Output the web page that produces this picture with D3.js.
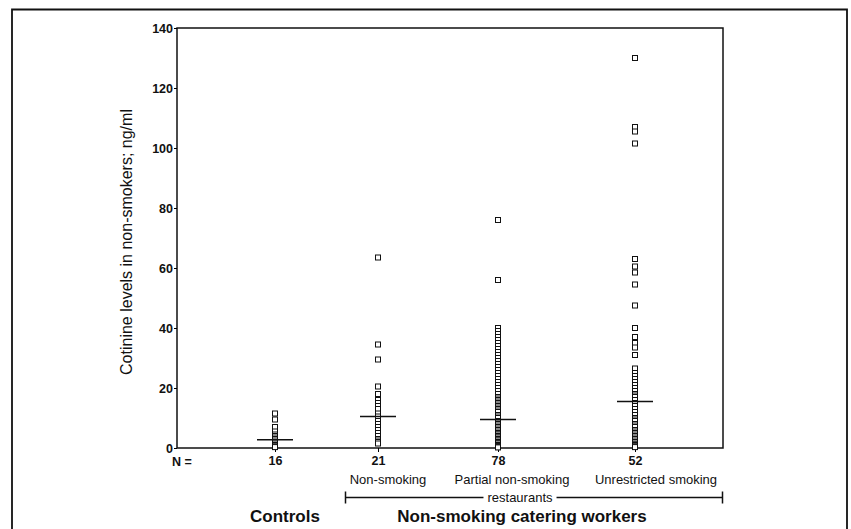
<!DOCTYPE html>
<html>
<head>
<meta charset="utf-8">
<script src="https://cdn.jsdelivr.net/npm/d3@7"></script>
<style>
  body { margin: 0; background: #fff; }
  svg text { font-family: "Liberation Sans", Arial, sans-serif; fill: #111; }
</style>
</head>
<body>
<svg id="chart" width="851" height="529"></svg>
<script>
// groups along the x axis
var groups = ["Controls", "Non-smoking", "Partial non-smoking", "Unrestricted smoking"];
var yTicks = [0, 20, 40, 60, 80, 100, 120, 140];

// cotinine levels (ng/ml)
var controls = [11.5, 9.5, 7, 5.5, 4.5, 4, 3.5, 3, 2.5, 2, 1.5, 1, 1, 0.5, 0.5, 0.3];
var nonSmoking = [63.5, 34.5, 29.5, 20.5, 18, 16, 15, 14, 13, 11.5, 10.5, 9, 8, 7, 6, 5, 4, 3, 2.5, 2, 1.5];
var partialNonSmoking = [76, 56, 40, 39, 38, 37, 36, 35, 34, 33, 32, 31, 30, 29, 28, 27, 26, 25, 24, 23, 22, 21, 20, 19, 18, 17,
    16.5, 16, 15.5, 15, 14.5, 14, 13.5, 13, 12.5, 12, 11, 10.5, 10,
    9, 8.5, 8, 8, 7.5, 7, 7, 6.5, 6, 6, 5.5, 5, 5, 4.5, 4.5, 4, 4, 3.5, 3.5, 3, 3, 3, 2.5, 2.5, 2, 2, 2,
    1.5, 1.5, 1.5, 1, 1, 1, 0.8, 0.6, 0.5, 0.4, 0.3, 0.2];
var unrestricted = [130, 107, 105.5, 101.5, 63, 60.5, 58.5, 54.5, 47.5, 40, 37, 35, 33.5, 31, 26.5, 25, 24, 23, 22, 21, 20, 19, 18,
    17.5, 17, 16, 15, 14, 13, 12, 11, 10, 9.5, 9, 8, 7.5, 7, 6, 5.5, 5, 4.5, 4, 3.5, 3, 2.5, 2, 1.5, 1.2, 1, 0.8, 0.5, 0.3];

var groupValues = [controls, nonSmoking, partialNonSmoking, unrestricted];

const svg = d3.select("#chart");

const plot = { left: 177, right: 723, top: 28, bottom: 448 };

const y = d3.scaleLinear()
    .domain([0, 140])
    .range([plot.bottom, plot.top]);

// group positions are not evenly spaced in the original
const x = d3.scaleOrdinal()
    .domain(groups)
    .range([275, 378, 498, 635]);

// outer frame
svg.append("path")
    .attr("d", "M12,535 L12,9.5 L847,9.5 L847,535")
    .attr("fill", "none")
    .attr("stroke", "#111")
    .attr("stroke-width", 1.8);

// plot frame
svg.append("rect")
    .attr("x", plot.left)
    .attr("y", plot.top)
    .attr("width", plot.right - plot.left)
    .attr("height", plot.bottom - plot.top)
    .attr("fill", "none")
    .attr("stroke", "#111")
    .attr("stroke-width", 1.5);

// y axis
const yAxis = svg.append("g")
    .attr("transform", `translate(${plot.left},0)`)
    .call(d3.axisLeft(y).tickValues(yTicks).tickSize(3).tickPadding(1).tickSizeOuter(0));
yAxis.select(".domain").remove();
yAxis.selectAll("text")
    .style("font-size", "12.5px")
    .style("font-weight", "bold");

// x axis with N counts
const xAxis = svg.append("g")
    .attr("transform", `translate(0,${plot.bottom})`)
    .call(d3.axisBottom(x).tickSize(4).tickPadding(4)
        .tickFormat(function (g) { return groupValues[groups.indexOf(g)].length; }));
xAxis.select(".domain").remove();
xAxis.selectAll("text")
    .style("font-size", "12.5px")
    .style("font-weight", "bold");

svg.append("text")
    .attr("x", 172)
    .attr("y", 466)
    .style("font-size", "12.5px")
    .style("font-weight", "bold")
    .text("N =");

// y axis title
svg.append("text")
    .attr("transform", "translate(132,242) rotate(-90)")
    .style("text-anchor", "middle")
    .style("font-size", "16px")
    .text("Cotinine levels in non-smokers; ng/ml");

// points
const pts = [];
groupValues.forEach(function (vals, i) {
    vals.forEach(function (v) { pts.push({ group: groups[i], value: v }); });
});

const size = 5;
svg.append("g")
    .selectAll("rect")
    .data(pts)
    .join("rect")
    .attr("x", d => x(d.group) - size / 2)
    .attr("y", d => y(d.value) - size / 2)
    .attr("width", size)
    .attr("height", size)
    .attr("fill", "white")
    .attr("stroke", "#111")
    .attr("stroke-width", 1);

// median lines
svg.append("g")
    .selectAll("line")
    .data(groups)
    .join("line")
    .attr("x1", d => x(d) - 18)
    .attr("x2", d => x(d) + 18)
    .attr("y1", (d, i) => y(d3.median(groupValues[i])))
    .attr("y2", (d, i) => y(d3.median(groupValues[i])))
    .attr("stroke", "#111")
    .attr("stroke-width", 1.6);

// sub-category labels
const subLabels = svg.append("g").style("font-size", "13px");
subLabels.append("text").attr("x", 388).attr("y", 484).style("text-anchor", "middle").text("Non-smoking");
subLabels.append("text").attr("x", 512).attr("y", 484).style("text-anchor", "middle").text("Partial non-smoking");
subLabels.append("text").attr("x", 656).attr("y", 484).style("text-anchor", "middle").text("Unrestricted smoking");
const rest = subLabels.append("text").attr("x", 520).attr("y", 502).style("text-anchor", "middle").text("restaurants");

// bracket with a gap for the label
const half = rest.node().getComputedTextLength() / 2 + 4;
const by = 497.5;
svg.append("path")
    .attr("d", `M345,${by} L${520 - half},${by} M${520 + half},${by} L723,${by} M345.5,${by - 6} L345.5,${by + 6} M722.5,${by - 6} L722.5,${by + 6}`)
    .attr("fill", "none")
    .attr("stroke", "#111")
    .attr("stroke-width", 1.5);

svg.append("text")
    .attr("x", 285).attr("y", 522)
    .style("text-anchor", "middle")
    .style("font-size", "17px")
    .style("font-weight", "bold")
    .text("Controls");

svg.append("text")
    .attr("x", 522).attr("y", 522)
    .style("text-anchor", "middle")
    .style("font-size", "17px")
    .style("font-weight", "bold")
    .text("Non-smoking catering workers");
</script>
</body>
</html>
